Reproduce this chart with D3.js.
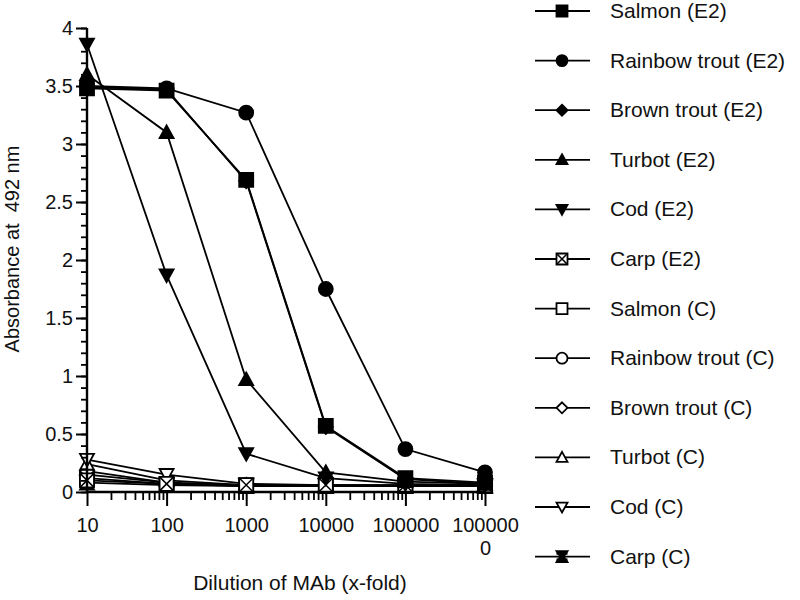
<!DOCTYPE html>
<html>
<head>
<meta charset="utf-8">
<script src="https://cdn.jsdelivr.net/npm/d3@7/dist/d3.min.js"></script>
<style>
  body { margin: 0; background: #fff; }
  svg { font-family: "Liberation Sans", Arial, sans-serif; }
</style>
</head>
<body>
<div id="chart"></div>
<script>
// dilution steps (x) and absorbance readings (y) per series
var dilutions = [10, 100, 1000, 10000, 100000, 1000000];
var tickLabels = ["10", "100", "1000", "10000", "100000", "1000000"];
var yTicks = [0, 0.5, 1, 1.5, 2, 2.5, 3, 3.5, 4];
var yTickLabels = ["0", "0.5", "1", "1.5", "2", "2.5", "3", "3.5", "4"];

var salmonE2  = [3.48, 3.46, 2.69, 0.57, 0.12, 0.08];
var rainbowE2 = [3.50, 3.48, 3.27, 1.75, 0.37, 0.17];
var brownE2   = [3.49, 3.47, 2.68, 0.56, 0.11, 0.07];
var turbotE2  = [3.60, 3.10, 0.97, 0.17, 0.09, 0.07];
var codE2     = [3.86, 1.87, 0.33, 0.12, 0.07, 0.06];
var carpE2    = [0.10, 0.07, 0.06, 0.06, 0.06, 0.06];
var salmonC   = [0.12, 0.07, 0.05, 0.05, 0.05, 0.05];
var rainbowC  = [0.15, 0.08, 0.06, 0.05, 0.05, 0.05];
var brownC    = [0.18, 0.08, 0.05, 0.05, 0.05, 0.05];
var turbotC   = [0.24, 0.10, 0.06, 0.06, 0.05, 0.05];
var codC      = [0.28, 0.15, 0.07, 0.06, 0.06, 0.05];
var carpC     = [0.08, 0.06, 0.05, 0.05, 0.05, 0.05];

var seriesNames = ["Salmon (E2)", "Rainbow trout (E2)", "Brown trout (E2)", "Turbot (E2)", "Cod (E2)", "Carp (E2)",
                   "Salmon (C)", "Rainbow trout (C)", "Brown trout (C)", "Turbot (C)", "Cod (C)", "Carp (C)"];
var seriesValues = [salmonE2, rainbowE2, brownE2, turbotE2, codE2, carpE2,
                    salmonC, rainbowC, brownC, turbotC, codC, carpC];
var seriesShapes = ["square", "circle", "diamond", "triangle", "triangleDown", "squareX",
                    "square", "circle", "diamond", "triangle", "triangleDown", "hourglass"];
var seriesFilled = [true, true, true, true, true, false,
                    false, false, false, false, false, true];

var svgWidth = 800;
var svgHeight = 600;

var svg = d3.select("#chart")
  .append("svg")
  .attr("width", svgWidth)
  .attr("height", svgHeight);

var x = d3.scaleLog().domain([10, 1000000]).range([87, 485]);
var y = d3.scaleLinear().domain([0, 4]).range([492, 28]);

// marker path generator, s = full size
function shapePath(shape, s) {
  var h = s / 2;
  switch (shape) {
    case "square":
    case "squareX":
      return `M${-h},${-h}H${h}V${h}H${-h}Z`;
    case "circle":
      return `M${h},0A${h},${h} 0 1,1 ${-h},0A${h},${h} 0 1,1 ${h},0Z`;
    case "diamond":
      return `M0,${-h}L${h},0L0,${h}L${-h},0Z`;
    case "triangle":
      return `M0,${-h}L${h},${h * 0.8}L${-h},${h * 0.8}Z`;
    case "triangleDown":
      return `M0,${h}L${h},${-h * 0.8}L${-h},${-h * 0.8}Z`;
    case "hourglass":
      return `M${-h},${-h}H${h}L${h * 0.3},0L${h},${h}H${-h}L${-h * 0.3},0Z`;
  }
}

function drawMarker(g, shape, filled, s) {
  g.append("path")
    .attr("d", shapePath(shape, s))
    .attr("fill", filled ? "#000" : "#fff")
    .attr("stroke", "#000")
    .attr("stroke-width", 1.8);
  if (shape === "squareX") {
    var h = s / 2;
    g.append("path")
      .attr("d", `M${-h},${-h}L${h},${h}M${h},${-h}L${-h},${h}`)
      .attr("stroke", "#000")
      .attr("stroke-width", 1.5);
  }
  if (shape === "hourglass") {
    var h2 = s / 2;
    g.append("path")
      .attr("d", `M${-h2},${-h2 * 0.6}H${h2}M${-h2},${h2 * 0.6}H${h2}`)
      .attr("stroke", "#000")
      .attr("stroke-width", 3);
  }
}

var line = d3.line()
  .x((d, i) => x(dilutions[i]))
  .y(d => y(d));

// lines first (controls under the E2 series)
var order = [6, 7, 8, 9, 10, 11, 5, 4, 3, 2, 0, 1];

order.forEach(function(k) {
  svg.append("path")
    .datum(seriesValues[k])
    .attr("d", line)
    .attr("fill", "none")
    .attr("stroke", "#000")
    .attr("stroke-width", 1.8);
});

order.forEach(function(k) {
  seriesValues[k].forEach(function(v, i) {
    var g = svg.append("g")
      .attr("transform", `translate(${x(dilutions[i])},${y(v)})`);
    drawMarker(g, seriesShapes[k], seriesFilled[k], 14);
  });
});

// y axis: major ticks with labels, minor ticks every 0.1
var yMinor = d3.range(0, 4.001, 0.1).map(d => +d.toFixed(1));
svg.append("g")
  .attr("transform", "translate(87,0)")
  .call(d3.axisLeft(y).tickValues(yMinor).tickSize(6).tickFormat(""))
  .call(g => g.select(".domain").remove())
  .selectAll("line").attr("stroke-width", 1.8);

var yAxis = svg.append("g")
  .attr("class", "yaxis")
  .attr("transform", "translate(87,0)")
  .call(d3.axisLeft(y).tickValues(yTicks).tickSize(11).tickPadding(3)
    .tickFormat((d, i) => yTickLabels[i]));
yAxis.select(".domain").attr("stroke-width", 2.4).attr("d", "M0,28V492");
yAxis.selectAll("line").attr("stroke-width", 2);
yAxis.selectAll("text").attr("font-size", 20).attr("fill", "#111");

// x axis: decade ticks plus log minor ticks
var xMinor = [];
dilutions.slice(0, -1).forEach(function(d) {
  for (var m = 2; m <= 9; m++) xMinor.push(d * m);
});
svg.append("g")
  .attr("transform", "translate(0,492)")
  .call(d3.axisBottom(x).tickValues(xMinor).tickSize(8).tickFormat(""))
  .call(g => g.select(".domain").remove())
  .selectAll("line").attr("stroke-width", 1.8);

var xAxis = svg.append("g")
  .attr("class", "xaxis")
  .attr("transform", "translate(0,492)")
  .call(d3.axisBottom(x).tickValues(dilutions).tickSize(14).tickPadding(6)
    .tickFormat(""));
xAxis.select(".domain").attr("stroke-width", 2.4).attr("d", "M87,0H485");
xAxis.selectAll("line").attr("stroke-width", 2);

// tick labels, long ones wrap after six characters
xAxis.selectAll(".tick").each(function(d, i) {
  var lab = tickLabels[i];
  var t = d3.select(this).append("text")
    .attr("fill", "#111")
    .attr("font-size", 20)
    .attr("text-anchor", "middle")
    .attr("y", 40);
  t.append("tspan").attr("x", 0).text(lab.slice(0, 6));
  if (lab.length > 6) {
    t.append("tspan").attr("x", 0).attr("dy", 23).text(lab.slice(6));
  }
});

// axis titles
svg.append("text")
  .attr("x", 300)
  .attr("y", 590)
  .attr("text-anchor", "middle")
  .attr("font-size", 21)
  .attr("fill", "#111")
  .text("Dilution of MAb (x-fold)");

svg.append("text")
  .attr("transform", "translate(19,249) rotate(-90)")
  .attr("text-anchor", "middle")
  .attr("font-size", 20)
  .attr("fill", "#111")
  .attr("xml:space", "preserve")
  .style("white-space", "pre")
  .text("Absorbance at  492 nm");

// legend
var legend = svg.append("g").attr("class", "legend");
seriesNames.forEach(function(name, k) {
  var ly = 11 + k * 49.6;
  var g = legend.append("g").attr("transform", `translate(0,${ly})`);
  g.append("line")
    .attr("x1", 535).attr("x2", 590)
    .attr("stroke", "#000").attr("stroke-width", 1.8);
  var m = g.append("g").attr("transform", "translate(562,0)");
  drawMarker(m, seriesShapes[k], seriesFilled[k], 11);
  g.append("text")
    .attr("x", 610)
    .attr("y", 7)
    .attr("font-size", 21)
    .attr("fill", "#111")
    .text(name);
});
</script>
</body>
</html>
